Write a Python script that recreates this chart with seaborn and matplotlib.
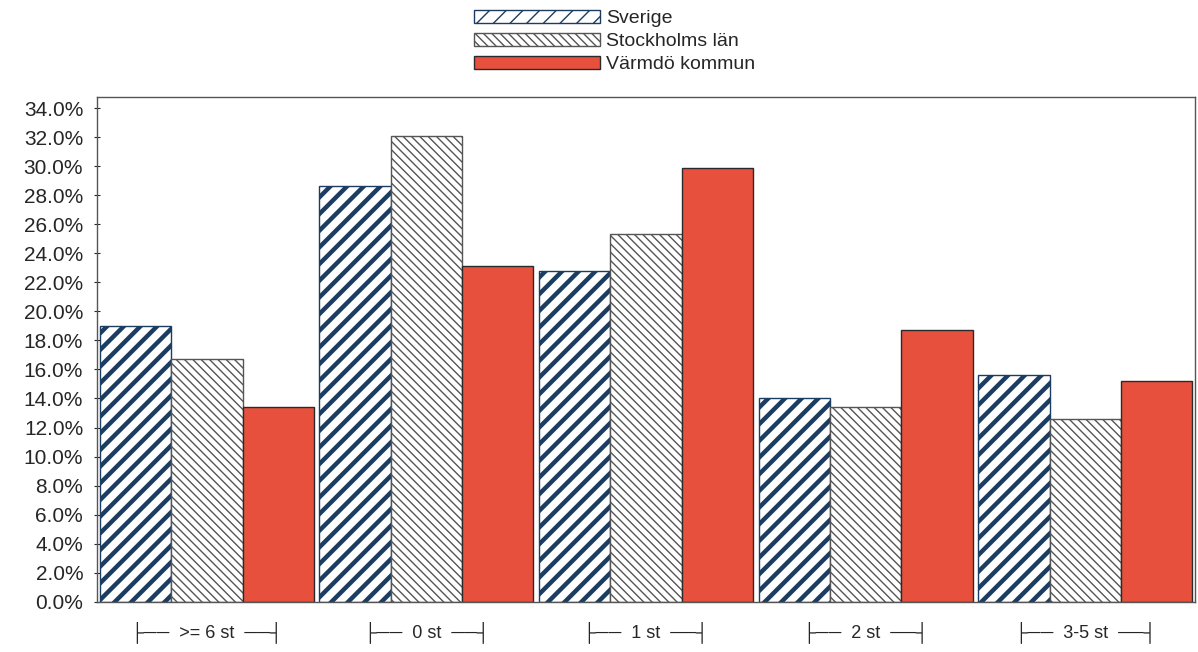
import matplotlib
matplotlib.use("Agg")
import matplotlib.pyplot as plt
import seaborn as sns
import pandas as pd
from matplotlib.patches import Patch
from matplotlib.ticker import PercentFormatter

# data (percent)
categories = [">= 6 st", "0 st", "1 st", "2 st", "3-5 st"]
sverige = [19.0, 28.6, 22.8, 14.0, 15.6]
stockholm = [16.7, 32.1, 25.3, 13.4, 12.6]
varmdo = [13.4, 23.1, 29.9, 18.7, 15.2]
series = ["Sverige", "Stockholms län", "Värmdö kommun"]

df = pd.DataFrame({
    "kategori": categories * 3,
    "andel": sverige + stockholm + varmdo,
    "omrade": [series[0]] * 5 + [series[1]] * 5 + [series[2]] * 5,
})

sns.set_style("white")
plt.rcParams["font.family"] = ["Liberation Sans", "DejaVu Sans"]

fig = plt.figure(figsize=(11.98, 6.52), dpi=100)
ax = fig.add_axes([0.081, 0.077, 0.9165, 0.774])

faces = ["white", "white", "#e8503e"]
edges = ["#1c3d62", "#555555", "#2a2a2a"]
hatches = ["//", "\\\\\\\\", None]
hatch_lw = [3.2, 1.0, 0]

sns.barplot(data=df, x="kategori", y="andel", hue="omrade", order=categories,
            hue_order=series, width=0.975, ax=ax, legend=False, errorbar=None,
            palette=faces)

for cont, fc, ec, h, hl in zip(ax.containers, faces, edges, hatches, hatch_lw):
    for p in cont:
        p.set_facecolor(fc)
        p.set_edgecolor(ec)
        p.set_linewidth(1.0)
        if h:
            p.set_hatch(h)
            if hasattr(p, "set_hatch_linewidth"):
                p.set_hatch_linewidth(hl)

ax.set_ylim(0, 34.75)
ax.set_xlim(-0.5, 4.5)
ax.set_yticks([i * 2 for i in range(18)])
ax.yaxis.set_major_formatter(PercentFormatter(decimals=1))
ax.set_xticks(range(5))
ax.set_xticklabels(["├──  " + c + "  ──┤" for c in categories], fontsize=13)
ax.tick_params(axis="x", length=0, pad=14)
ax.tick_params(axis="y", length=4, direction="inout", labelsize=15, pad=8, left=True)
ax.set_xlabel("")
ax.set_ylabel("")
for s in ax.spines.values():
    s.set_color("#555555")
    s.set_linewidth(1.0)

handles = [Patch(facecolor=fc, edgecolor=ec, hatch=h, label=l)
           for fc, ec, h, l in zip(faces, edges, hatches, series)]
fig.legend(handles=handles, loc="upper center", bbox_to_anchor=(0.513, 1.012),
           frameon=False, fontsize=14, handlelength=6.5, handleheight=0.7,
           labelspacing=0.28, handletextpad=0.3)

fig.savefig("out.png", dpi=100)
